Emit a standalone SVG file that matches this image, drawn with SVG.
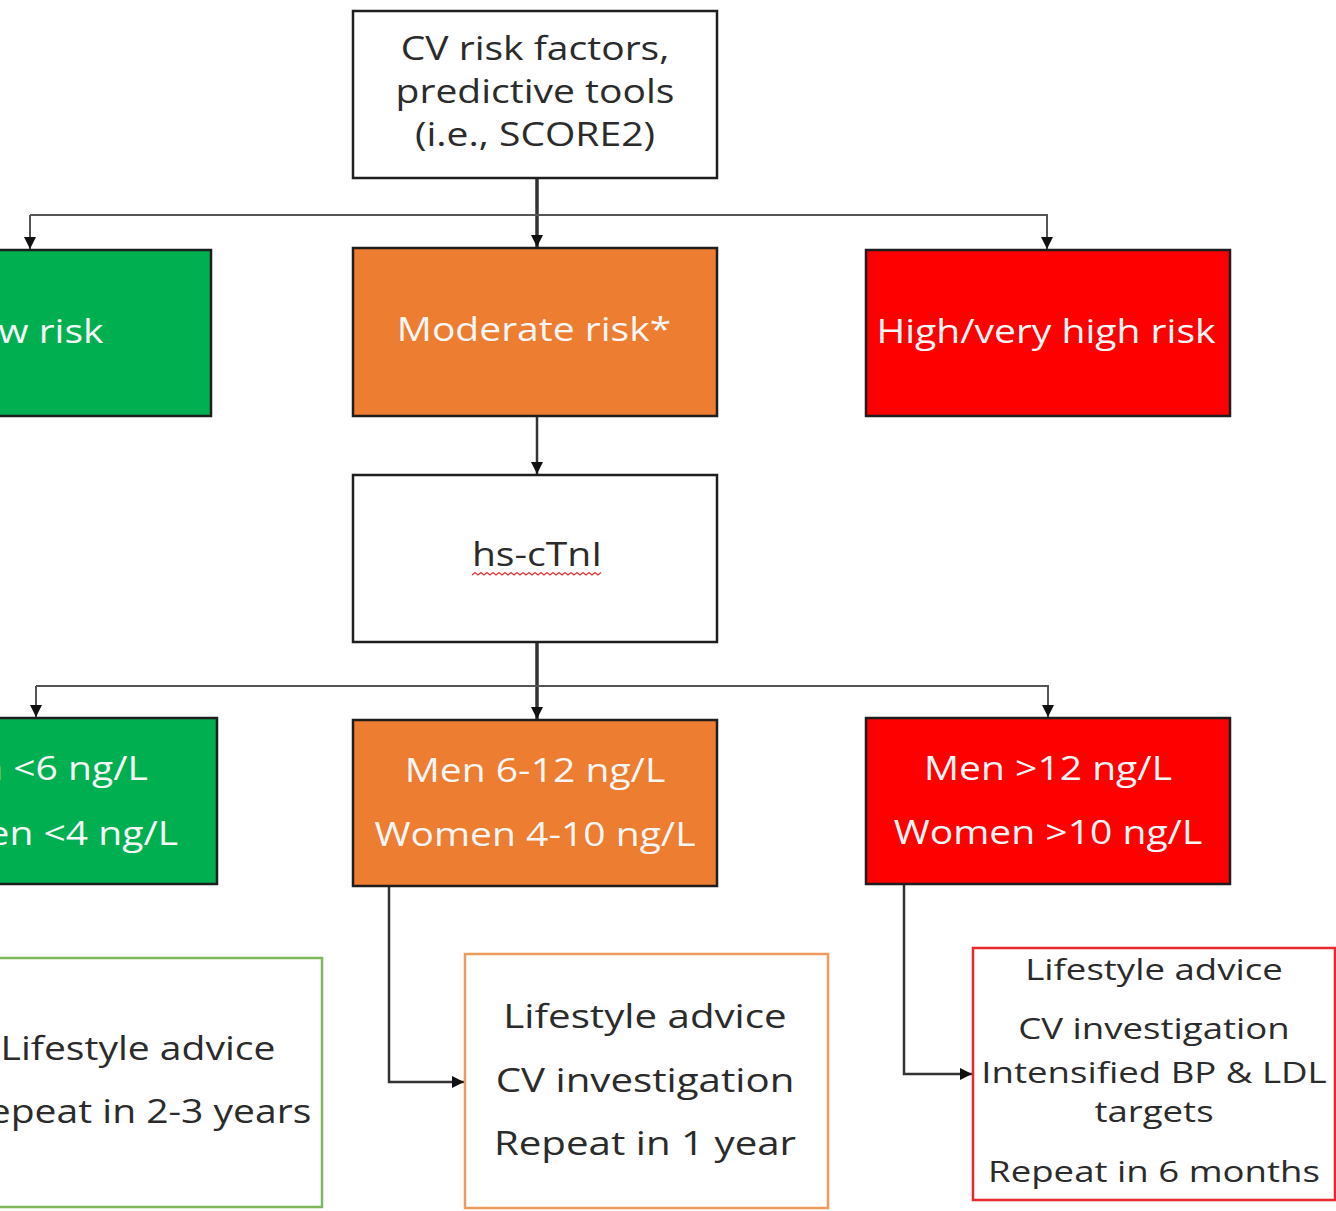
<svg xmlns="http://www.w3.org/2000/svg" width="1336" height="1211" viewBox="0 0 1336 1211">
<style>
text{font-family:"Open Sans","Liberation Sans",sans-serif;text-anchor:middle;transform-box:fill-box;transform-origin:center;transform:scaleX(1.22)}
.dk{fill:#2b2b2b}
.wt{fill:#f7f7f7}
.f32{font-size:32px}
.f33{font-size:33px}
.f30{font-size:30px}
.box{stroke:#1e1e1e;stroke-width:2.5}
.w{fill:#fff}
.g{fill:#00b050}
.o{fill:#ed7d31}
.r{fill:#ff0000}
.og{fill:#fff;stroke:#7fb85a;stroke-width:2.5}
.oo{fill:#fff;stroke:#f09a5e;stroke-width:2.5}
.orr{fill:#fff;stroke:#e8282c;stroke-width:2.5}
.ln{fill:none;stroke:#333;stroke-width:2.5}
.thin{fill:none;stroke:#555;stroke-width:2}
</style>
<defs>
<marker id="ah" viewBox="0 0 10 10" refX="10" refY="5" markerWidth="12" markerHeight="12" markerUnits="userSpaceOnUse" orient="auto">
<path d="M0,0 L10,5 L0,10 z" fill="#111"/>
</marker>
</defs>

<g id="connectors">
<line class="ln" x1="537" y1="178" x2="537" y2="247" marker-end="url(#ah)" style="stroke-width:3.5"/>
<polyline class="thin" points="30,215 1047,215 1047,249" marker-end="url(#ah)"/>
<path class="thin" d="M30,215 L30,249" marker-end="url(#ah)"/>
<line class="ln" x1="537" y1="416" x2="537" y2="474" marker-end="url(#ah)"/>
<line class="ln" x1="537" y1="642" x2="537" y2="719" marker-end="url(#ah)" style="stroke-width:3.5"/>
<polyline class="thin" points="36,686 1048,686 1048,717" marker-end="url(#ah)"/>
<path class="thin" d="M36,686 L36,717" marker-end="url(#ah)"/>
<polyline class="ln" points="389,886 389,1082 464,1082" marker-end="url(#ah)"/>
<polyline class="ln" points="904,884 904,1074 972,1074" marker-end="url(#ah)"/>
</g>

<g id="node-cv">
<rect class="box w" x="353" y="11" width="364" height="167"/>
<text class="dk f32" x="535" y="60">CV risk factors,</text>
<text class="dk f32" x="535" y="103">predictive tools</text>
<text class="dk f32" x="535" y="146">(i.e., SCORE2)</text>
</g>

<g id="node-low">
<rect class="box g" x="-153" y="250" width="364" height="166"/>
<text class="wt f32" x="29" y="343">Low risk</text>
</g>

<g id="node-moderate">
<rect class="box o" x="353" y="248" width="364" height="168"/>
<text class="wt f32" x="534" y="341">Moderate risk*</text>
</g>

<g id="node-high">
<rect class="box r" x="866" y="250" width="364" height="166"/>
<text class="wt f32" x="1046" y="343">High/very high risk</text>
</g>

<g id="node-hs">
<rect class="box w" x="353" y="475" width="364" height="167"/>
<text class="dk f32" x="537" y="566">hs-cTnI</text>
<path d="M472,575 l3,-2.5 l3,2.5 l3,-2.5 l3,2.5 l3,-2.5 l3,2.5 l3,-2.5 l3,2.5 l3,-2.5 l3,2.5 l3,-2.5 l3,2.5 l3,-2.5 l3,2.5 l3,-2.5 l3,2.5 l3,-2.5 l3,2.5 l3,-2.5 l3,2.5 l3,-2.5 l3,2.5 l3,-2.5 l3,2.5 l3,-2.5 l3,2.5 l3,-2.5 l3,2.5 l3,-2.5 l3,2.5 l3,-2.5 l3,2.5 l3,-2.5 l3,2.5 l3,-2.5 l3,2.5 l3,-2.5 l3,2.5 l3,-2.5 l3,2.5 l3,-2.5 l3,2.5 l3,-2.5" fill="none" stroke="#e03030" stroke-width="1.3"/>
</g>

<g id="node-low-trop">
<rect class="box g" x="-147" y="718" width="364" height="166"/>
<text class="wt f32" x="35" y="780">Men &lt;6 ng/L</text>
<text class="wt f32" x="35" y="845">Women &lt;4 ng/L</text>
</g>

<g id="node-mod-trop">
<rect class="box o" x="353" y="720" width="364" height="166"/>
<text class="wt f32" x="535" y="782">Men 6-12 ng/L</text>
<text class="wt f32" x="535" y="846">Women 4-10 ng/L</text>
</g>

<g id="node-high-trop">
<rect class="box r" x="866" y="718" width="364" height="166"/>
<text class="wt f32" x="1048" y="780">Men &gt;12 ng/L</text>
<text class="wt f32" x="1048" y="844">Women &gt;10 ng/L</text>
</g>

<g id="node-low-action">
<rect class="og" x="-46" y="958" width="368" height="249"/>
<text class="dk f32" x="138" y="1060">Lifestyle advice</text>
<text class="dk f32" x="138" y="1123">Repeat in 2-3 years</text>
</g>

<g id="node-mod-action">
<rect class="oo" x="465" y="954" width="363" height="254"/>
<text class="dk f33" x="645" y="1028">Lifestyle advice</text>
<text class="dk f33" x="645" y="1092">CV investigation</text>
<text class="dk f33" x="645" y="1155">Repeat in 1 year</text>
</g>

<g id="node-high-action">
<rect class="orr" x="973" y="948" width="362" height="252"/>
<text class="dk f30" x="1154" y="980">Lifestyle advice</text>
<text class="dk f30" x="1154" y="1039">CV investigation</text>
<text class="dk f30" x="1154" y="1083">Intensified BP &amp; LDL</text>
<text class="dk f30" x="1154" y="1122">targets</text>
<text class="dk f30" x="1154" y="1182">Repeat in 6 months</text>
</g>
</svg>
